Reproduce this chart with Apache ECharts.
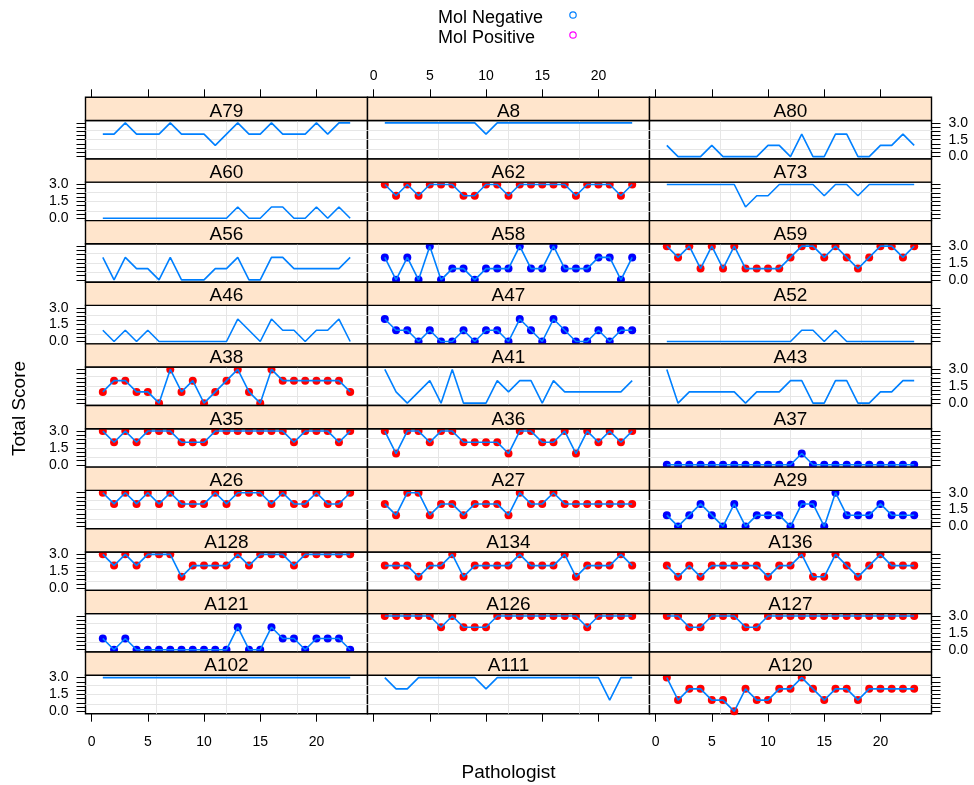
<!DOCTYPE html>
<html><head><meta charset="utf-8">
<script src="https://cdn.jsdelivr.net/npm/echarts@6/dist/echarts.min.js"></script>
<style>html,body{margin:0;padding:0;background:#fff}#c{width:974px;height:785px}</style>
</head><body><div id="c"></div>
<script>
// ---- data ----
const pathologists = [1,2,3,4,5,6,7,8,9,10,11,12,13,14,15,16,17,18,19,20,21,22,23];
const xTicks = [0,5,10,15,20];
const xTickLabels = [0,5,10,15,20];
const yTicks = [0,0.375,0.75,1.125,1.5,1.875,2.25,2.625,3];
const yTickLabels = [0,1.5,3];

const A79  = [2,2,3,2,2,2,3,2,2,2,1,2,3,2,2,3,2,2,2,3,2,3,3];
const A8   = [3,3,3,3,3,3,3,3,3,2,3,3,3,3,3,3,3,3,3,3,3,3,3];
const A80  = [1,0,0,0,1,0,0,0,0,1,1,0,2,0,0,2,2,0,0,1,1,2,1];
const A60  = [0,0,0,0,0,0,0,0,0,0,0,0,1,0,0,1,1,0,0,1,0,1,0];
const A62  = [3,2,3,2,3,3,3,2,2,3,3,2,3,3,3,3,3,2,3,3,3,2,3];
const A73  = [3,3,3,3,3,3,3,1,2,2,3,3,3,3,2,3,3,2,3,3,3,3,3];
const A56  = [2,0,2,1,1,0,2,0,0,0,1,1,2,0,0,2,2,1,1,1,1,1,2];
const A58  = [2,0,2,0,3,0,1,1,0,1,1,1,3,1,1,3,1,1,1,2,2,0,2];
const A59  = [3,2,3,1,3,1,3,1,1,1,1,2,3,3,2,3,2,1,2,3,3,2,3];
const A46  = [1,0,1,0,1,0,0,0,0,0,0,0,2,1,0,2,1,1,0,1,1,2,0];
const A47  = [2,1,1,0,1,0,0,1,0,1,1,0,2,1,0,2,1,0,0,1,0,1,1];
const A52  = [0,0,0,0,0,0,0,0,0,0,0,0,1,1,0,1,0,0,0,0,0,0,0];
const A38  = [1,2,2,1,1,0,3,1,2,0,1,2,3,1,0,3,2,2,2,2,2,2,1];
const A41  = [3,1,0,1,2,0,3,0,0,0,2,1,2,2,0,2,1,1,1,1,1,1,2];
const A43  = [3,0,1,1,1,1,1,0,1,1,1,2,2,0,0,2,2,0,0,1,1,2,2];
const A35  = [3,2,3,2,3,3,3,2,2,2,3,3,3,3,3,3,3,2,3,3,3,2,3];
const A36  = [3,1,3,3,2,3,3,2,2,2,2,1,3,3,2,2,3,1,3,2,3,2,3];
const A37  = [0,0,0,0,0,0,0,0,0,0,0,0,1,0,0,0,0,0,0,0,0,0,0];
const A26  = [3,2,3,2,3,2,3,2,2,2,3,2,3,3,3,2,3,2,2,3,2,2,3];
const A27  = [2,1,3,3,1,2,2,1,2,2,2,1,3,2,2,3,2,2,2,2,2,2,2];
const A29  = [1,0,1,2,1,0,2,0,1,1,1,0,2,2,0,3,1,1,1,2,1,1,1];
const A128 = [3,2,3,2,3,3,3,1,2,2,2,2,3,2,3,3,3,2,3,3,3,3,3];
const A134 = [2,2,2,1,2,2,3,1,2,2,2,2,3,2,2,2,3,1,2,2,2,3,2];
const A136 = [2,1,2,1,2,2,2,2,2,1,2,2,3,1,1,3,2,1,2,3,2,2,2];
const A121 = [1,0,1,0,0,0,0,0,0,0,0,0,2,0,0,2,1,1,0,1,1,1,0];
const A126 = [3,3,3,3,3,2,3,2,2,2,3,3,3,3,3,3,3,3,2,3,3,3,3];
const A127 = [3,3,2,2,3,3,3,2,2,3,3,3,3,3,3,3,3,3,3,3,3,3,3];
const A102 = [3,3,3,3,3,3,3,3,3,3,3,3,3,3,3,3,3,3,3,3,3,3,3];
const A111 = [3,2,2,3,3,3,3,3,3,2,3,3,3,3,3,3,3,3,3,3,1,3,3];
const A120 = [3,1,2,2,1,1,0,2,1,1,2,2,3,2,1,2,2,1,2,2,2,2,2];

const panelValues = {A79,A8,A80,A60,A62,A73,A56,A58,A59,A46,A47,A52,A38,A41,A43,
  A35,A36,A37,A26,A27,A29,A128,A134,A136,A121,A126,A127,A102,A111,A120};

// panel layout, top row first
const layoutRows = [
  ['A79','A8','A80'], ['A60','A62','A73'], ['A56','A58','A59'], ['A46','A47','A52'],
  ['A38','A41','A43'], ['A35','A36','A37'], ['A26','A27','A29'], ['A128','A134','A136'],
  ['A121','A126','A127'], ['A102','A111','A120']
];
const redPointPanels  = ['A62','A59','A38','A35','A36','A26','A27','A128','A134','A136','A126','A127','A120'];
const bluePointPanels = ['A58','A47','A37','A29','A121'];
const legendNames = ['Mol Negative','Mol Positive'];

// ---- layout / style ----
const FONT = 'Liberation Sans, Arial, Helvetica, sans-serif';
const LEFT = 85.5, PW = 282, TOP = 97.3, ROWH = 61.64, STRIPH = 23.2, PLOTH = ROWH - STRIPH;
const xMin = -0.54, xMax = 24.54, yMin = -0.21, yMax = 3.21;
const LINE_BLUE = '#0080ff';
const gx = [1,2,3].map(k => xMin + k*(xMax - xMin)/4);
const gy = [1,2,3].map(k => yMin + k*(yMax - yMin)/4);

const grids = [], xAxes = [], yAxes = [], series = [], graphics = [];
const nRows = layoutRows.length;
layoutRows.forEach((row, r) => {
  row.forEach((name, c) => {
    const i = grids.length;
    const stripTop = TOP + r*ROWH;
    grids.push({left: LEFT + c*PW, top: stripTop + STRIPH, width: PW, height: PLOTH,
      show: true, borderColor: '#000', borderWidth: 1.4, backgroundColor: '#fff', containLabel: false});
    const isTop = r === 0, isBottom = r === nRows - 1;
    xAxes.push({gridIndex: i, type: 'value', min: xMin, max: xMax,
      position: isTop ? 'top' : 'bottom', offset: isTop ? STRIPH : 0,
      axisLine: {show: false, onZero: false},
      axisTick: {show: isTop || isBottom, customValues: xTicks, length: 8, lineStyle: {color: '#000', width: 1}},
      axisLabel: {show: (isTop && c === 1) || (isBottom && c !== 1), customValues: xTickLabels,
        margin: isTop ? 14 : 21, fontSize: 14, color: '#000', fontFamily: FONT},
      splitLine: {show: false}});
    const showYLab = (c === 0 && r % 2 === 1) || (c === 2 && r % 2 === 0);
    yAxes.push({gridIndex: i, type: 'value', min: yMin, max: yMax,
      position: c === 2 ? 'right' : 'left',
      axisLine: {show: false, onZero: false},
      axisTick: {show: c !== 1, customValues: yTicks, length: 9, lineStyle: {color: '#000', width: 1}},
      axisLabel: {show: showYLab, customValues: yTickLabels, margin: 17, fontSize: 14, color: '#000',
        fontFamily: FONT, formatter: v => Number(v).toFixed(1)},
      splitLine: {show: false}});
    const vals = panelValues[name];
    const pts = pathologists.map((p, k) => [p, vals[k]]);
    series.push({type: 'line', xAxisIndex: i, yAxisIndex: i, data: pts, showSymbol: false, z: 3,
      lineStyle: {color: LINE_BLUE, width: 1.6}, silent: true, animation: false,
      markLine: {silent: true, z: 1, symbol: ['none','none'], label: {show: false},
        lineStyle: {color: '#e6e6e6', width: 1, type: 'solid'}, animation: false,
        data: gx.map(v => ({xAxis: v})).concat(gy.map(v => ({yAxis: v})))}});
    const pc = redPointPanels.includes(name) ? '#ff0000' : (bluePointPanels.includes(name) ? '#0000ff' : null);
    if (pc) {
      series.push({type: 'scatter', xAxisIndex: i, yAxisIndex: i, data: pts, symbol: 'circle',
        symbolSize: 8, itemStyle: {color: pc, opacity: 1}, z: 2, silent: true, animation: false});
    }
    graphics.push({type: 'rect', z: 10, shape: {x: LEFT + c*PW, y: stripTop, width: PW, height: STRIPH},
      style: {fill: '#ffe5cc', stroke: '#000', lineWidth: 1.4}});
    graphics.push({type: 'text', z: 11, x: LEFT + c*PW + PW/2, y: stripTop + 14,
      style: {text: name, fontSize: 19, fontFamily: FONT, fill: '#000', align: 'center', verticalAlign: 'middle'}});
  });
});

// axis titles
graphics.push({type: 'text', x: LEFT + 1.5*PW, y: 773,
  style: {text: 'Pathologist', fontSize: 19, fontFamily: FONT, fill: '#000', align: 'center', verticalAlign: 'middle'}});
graphics.push({type: 'text', x: 20, y: TOP + nRows*ROWH/2 + 3, rotation: Math.PI/2,
  style: {text: 'Total Score', fontSize: 19, fontFamily: FONT, fill: '#000', align: 'center', verticalAlign: 'middle'}});
// legend
const legendColors = ['#0080ff', '#ff00ff'];
legendNames.forEach((t, k) => {
  graphics.push({type: 'text', x: 438, y: 18.5 + k*20,
    style: {text: t, fontSize: 18, fontFamily: FONT, fill: '#000', align: 'left', verticalAlign: 'middle'}});
  graphics.push({type: 'circle', shape: {cx: 573, cy: 15 + k*20, r: 3.2},
    style: {fill: 'none', stroke: legendColors[k], lineWidth: 1.2}});
});

const chart = echarts.init(document.getElementById('c'), null, {renderer: 'canvas'});
chart.setOption({animation: false, backgroundColor: '#fff', grid: grids, xAxis: xAxes, yAxis: yAxes,
  series: series, graphic: graphics});
</script></body></html>
